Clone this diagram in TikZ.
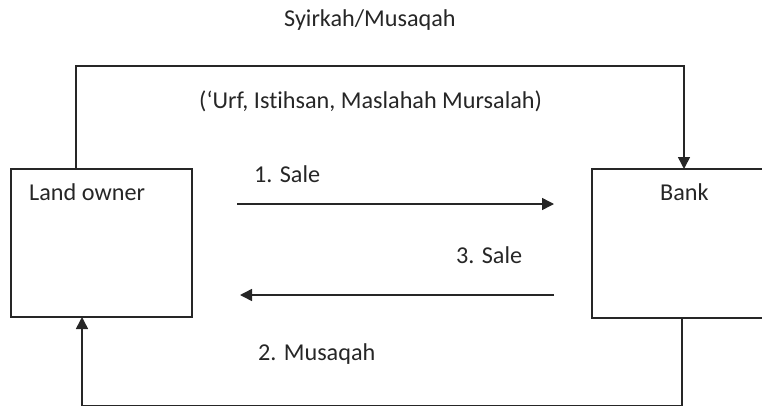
\documentclass[tikz,border=0pt]{standalone}
\usepackage{fontspec}
\setmainfont{Carlito}[Ligatures={NoCommon}]
\usetikzlibrary{arrows.meta}
\begin{document}
\begin{tikzpicture}[x=1pt,y=-1pt,
  box/.style={draw=black!85,line width=1.5pt,inner sep=0pt,outer sep=0pt},
  lbl/.style={anchor=base west,inner sep=0pt,font=\fontsize{24.2}{29}\selectfont,text=black!85},
  conn/.style={draw=black!85,line width=1.5pt},
  arr/.style={conn,-{Triangle[length=12pt,width=12pt]}}]
\clip (0,0) rectangle (762,407);
\useasboundingbox (0,0) rectangle (762,407);
\node[box,minimum width=181pt,minimum height=148pt] (land) at (101.5,243) {};
\node[box,minimum width=181pt,minimum height=149pt] (bank) at (682.5,243.5) {};
\node[lbl] (tland) at (29,200.7) {Land owner};
\node[lbl] (tbank) at (660,200.5) {Bank};
\node[lbl] (ttop) at (284,26) {Syirkah/Musaqah};
\node[lbl] (tbasis) at (199,108.3) {(‘Urf, Istihsan, Maslahah Mursalah)};
\node[lbl] (t1) at (254,182) {1. Sale};
\node[lbl] (t3) at (456,263) {3. Sale};
\node[lbl] (t2) at (258,360) {2. Musaqah};
\coordinate (a1s) at (237,204);
\coordinate (a1e) at (554,204);
\coordinate (a3s) at (554,295);
\coordinate (a3e) at (240,295);
\draw[arr] (a1s) -- (a1e);
\draw[arr] (a3s) -- (a3e);
\draw[arr] (land.north west -| 76,0) -- (76,66) -- (684,66) -- (bank.north west -| 684,0);
\draw[arr] (bank.south west -| 682,0) -- (682,405.5) -- (82,405.5) -- (land.south west -| 82,0);
\end{tikzpicture}
\end{document}
